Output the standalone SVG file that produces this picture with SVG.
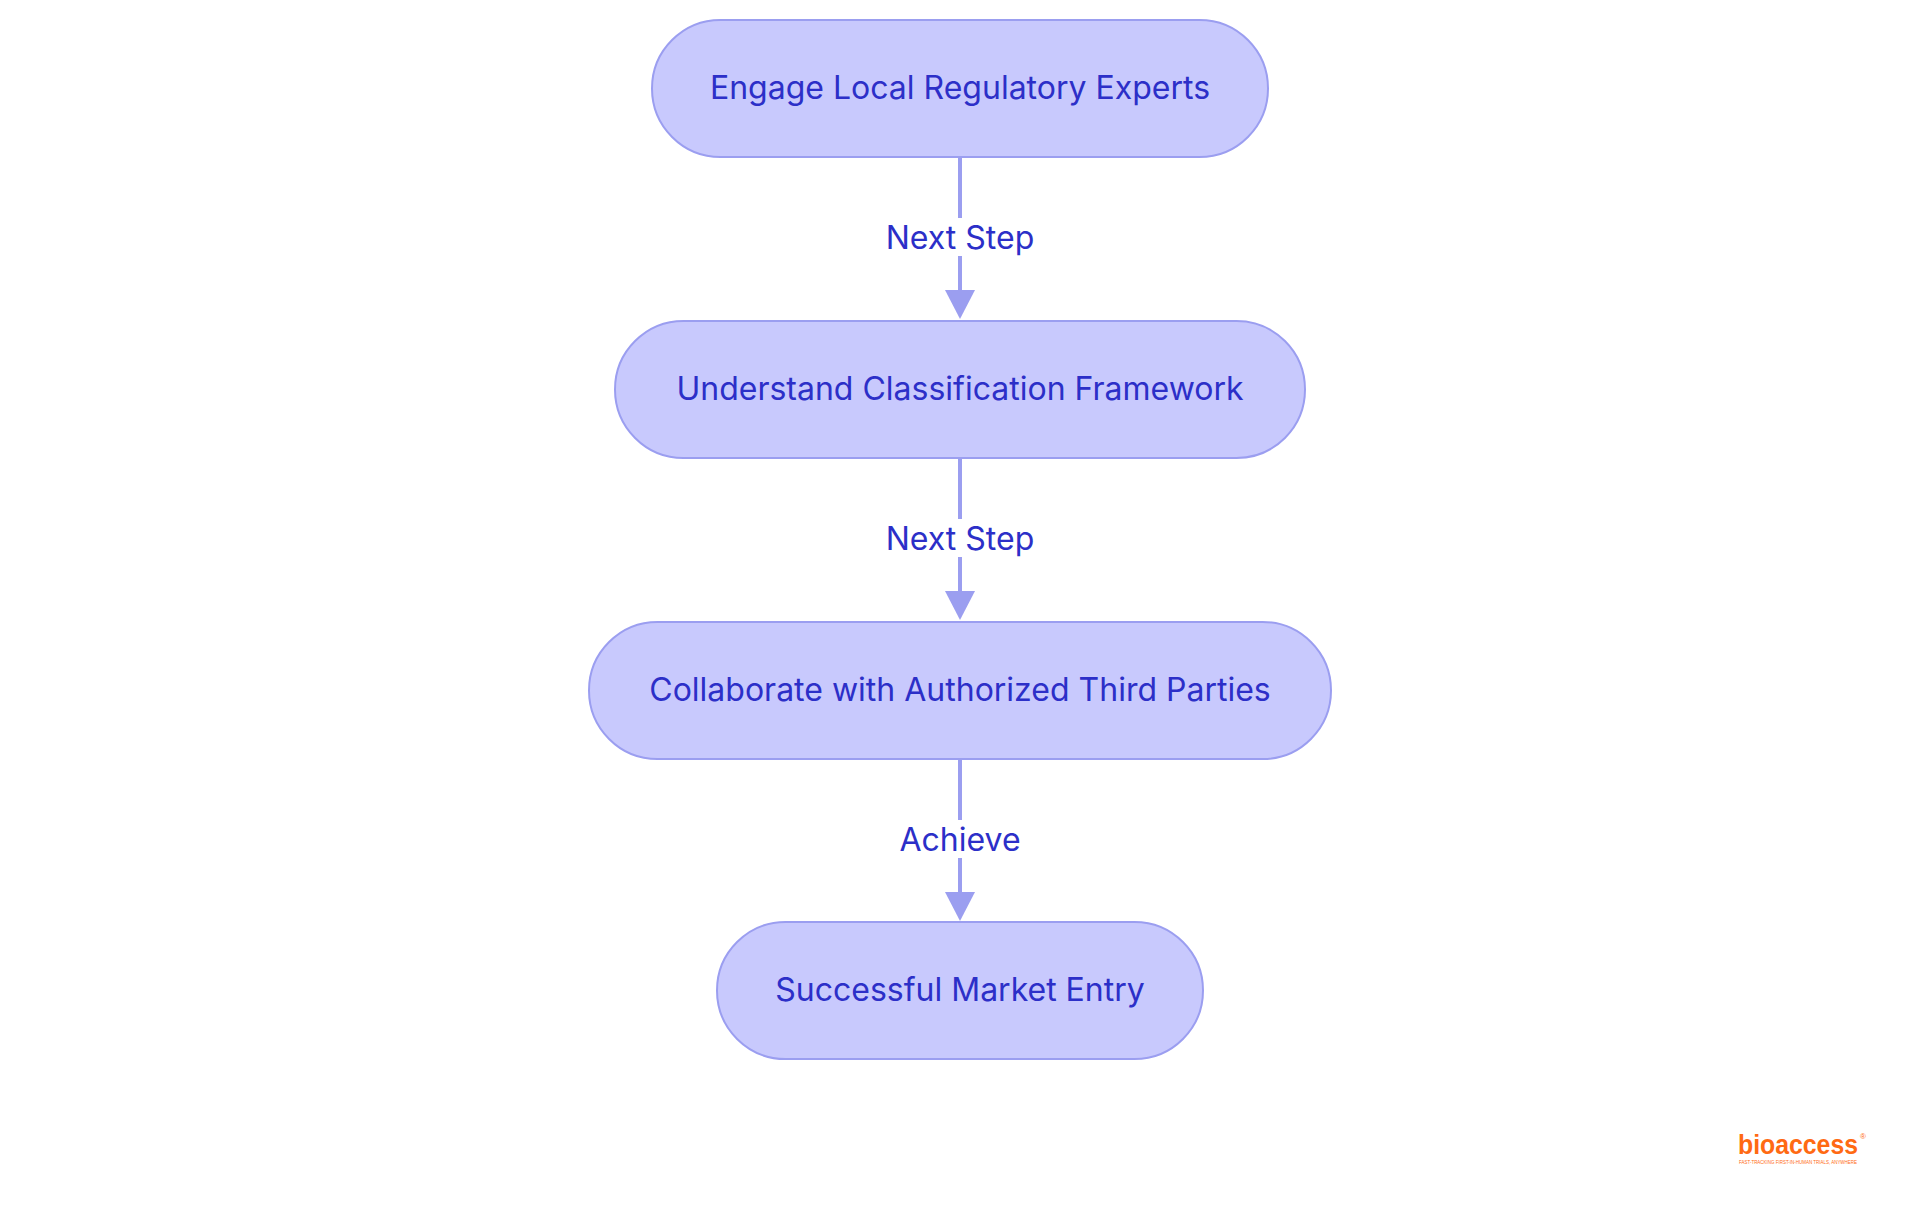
<svg xmlns="http://www.w3.org/2000/svg" width="1920" height="1215" viewBox="0 0 1920 1215">
<style>
.n{fill:#c8c9fd;stroke:#9b9ef0;stroke-width:2}
.t{font-family:Inter,"Noto Sans",sans-serif;font-size:32px;fill:#2c2fc8;text-anchor:middle;dominant-baseline:central}
.e{stroke:#9b9ef0;stroke-width:4;fill:none}
.lb{fill:#fff}
</style>
<rect width="1920" height="1215" fill="#fff"/>
<g id="connectors">
<path class="e" d="M960,157V292"/>
<path d="M945,290h30l-15,29z" fill="#9b9ef0"/>
<path class="e" d="M960,458V593"/>
<path d="M945,591h30l-15,29z" fill="#9b9ef0"/>
<path class="e" d="M960,759V894"/>
<path d="M945,892h30l-15,29z" fill="#9b9ef0"/>
<rect class="lb" x="870" y="218" width="180" height="38"/>
<text class="t" x="960" y="237">Next Step</text>
<rect class="lb" x="870" y="519" width="180" height="38"/>
<text class="t" x="960" y="538">Next Step</text>
<rect class="lb" x="890" y="820" width="140" height="38"/>
<text class="t" x="960" y="839">Achieve</text>
</g>
<g id="n1"><rect class="n" x="652" y="20" width="616" height="137" rx="68.5"/><text class="t" x="960" y="87">Engage Local Regulatory Experts</text></g>
<g id="n2"><rect class="n" x="615" y="321" width="690" height="137" rx="68.5"/><text class="t" x="960" y="388">Understand Classification Framework</text></g>
<g id="n3"><rect class="n" x="589" y="622" width="742" height="137" rx="68.5"/><text class="t" x="960" y="689">Collaborate with Authorized Third Parties</text></g>
<g id="n4"><rect class="n" x="717" y="922" width="486" height="137" rx="68.5"/><text class="t" x="960" y="989">Successful Market Entry</text></g>
<g id="logo">
<text x="1738" y="1154" font-family="'Liberation Sans',sans-serif" font-weight="bold" font-size="27" fill="#ff6a13" textLength="120" lengthAdjust="spacingAndGlyphs">bioaccess</text>
<text x="1860" y="1139" font-family="'Liberation Sans',sans-serif" font-size="8" fill="#ff6a13">®</text>
<text x="1739" y="1164" font-family="'Liberation Sans',sans-serif" font-size="4.5" fill="#ff6a13" textLength="118" lengthAdjust="spacingAndGlyphs">FAST-TRACKING FIRST-IN-HUMAN TRIALS, ANYWHERE</text>
</g>
</svg>
